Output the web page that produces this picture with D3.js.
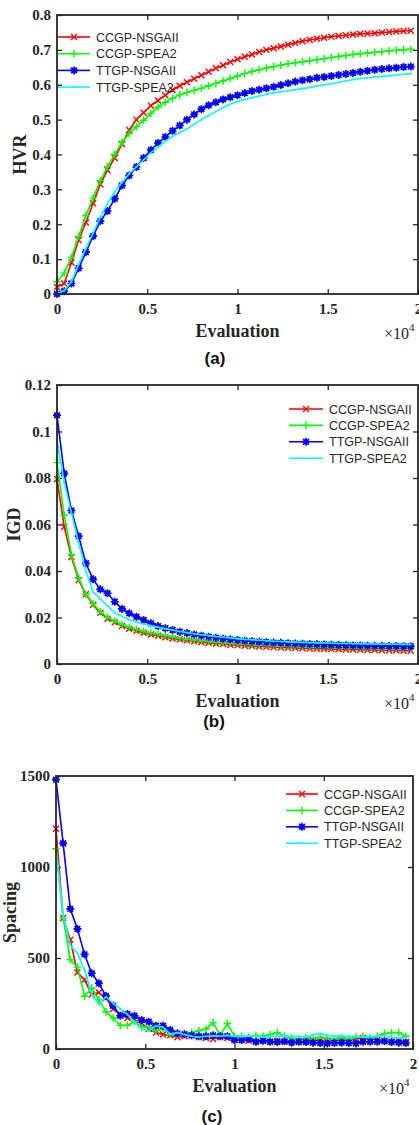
<!DOCTYPE html>
<html>
<head>
<meta charset="utf-8">
<script src="https://cdn.jsdelivr.net/npm/d3@7.9.0/dist/d3.min.js"></script>
<style>
    body { margin: 0; background: #fff; }
    svg { display: block; }
    .tick text { font-family: "Liberation Serif", "Times New Roman", serif; font-weight: bold; font-size: 15px; fill: #262626; }
    .tick line { stroke: #262626; stroke-width: 1.3; }
</style>
</head>
<body>
<svg id="chart" width="419" height="1125"></svg>
<script>
// Evaluation grid (x values of the sampled points)
const evaluations = [0, 400, 800, 1200, 1600, 2000, 2400, 2800, 3200, 3600,
    4000, 4400, 4800, 5200, 5600, 6000, 6400, 6800, 7200, 7600,
    8000, 8400, 8800, 9200, 9600, 10000, 10400, 10800, 11200, 11600,
    12000, 12400, 12800, 13200, 13600, 14000, 14400, 14800, 15200, 15600,
    16000, 16400, 16800, 17200, 17600, 18000, 18400, 18800, 19200, 19600];

const seriesNames = ['CCGP-NSGAII', 'CCGP-SPEA2', 'TTGP-NSGAII', 'TTGP-SPEA2'];

const xTicks = [0, 5000, 10000, 15000, 20000];
const xTickLabels = ['0', '0.5', '1', '1.5', '2'];

// (a) HVR
const hvrTicks = [0, 0.1, 0.2, 0.3, 0.4, 0.5, 0.6, 0.7, 0.8];
const hvrTickLabels = ['0', '0.1', '0.2', '0.3', '0.4', '0.5', '0.6', '0.7', '0.8'];
const hvrCCGPNSGAII = [0.02, 0.03, 0.09, 0.155, 0.205, 0.26, 0.315, 0.355, 0.39, 0.43,
    0.47, 0.50, 0.52, 0.54, 0.555, 0.57, 0.585, 0.597, 0.607, 0.617,
    0.627, 0.637, 0.647, 0.656, 0.665, 0.673, 0.68, 0.687, 0.694, 0.70,
    0.705, 0.71, 0.715, 0.72, 0.725, 0.729, 0.732, 0.735, 0.738, 0.74,
    0.742, 0.744, 0.746, 0.747, 0.748, 0.75, 0.751, 0.753, 0.754, 0.755];
const hvrCCGPSPEA2 = [0.035, 0.06, 0.105, 0.165, 0.225, 0.275, 0.325, 0.365, 0.40, 0.435,
    0.46, 0.48, 0.498, 0.518, 0.536, 0.55, 0.561, 0.571, 0.578, 0.584,
    0.59, 0.597, 0.604, 0.611, 0.618, 0.625, 0.632, 0.638, 0.643, 0.648,
    0.652, 0.656, 0.66, 0.663, 0.666, 0.669, 0.672, 0.675, 0.678, 0.681,
    0.684, 0.687, 0.689, 0.691, 0.693, 0.695, 0.697, 0.699, 0.70, 0.702];
const hvrTTGPNSGAII = [0.0, 0.008, 0.03, 0.074, 0.12, 0.166, 0.209, 0.238, 0.273, 0.311,
    0.34, 0.364, 0.39, 0.413, 0.433, 0.45, 0.468, 0.483, 0.50, 0.515,
    0.53, 0.541, 0.55, 0.558, 0.564, 0.57, 0.576, 0.582, 0.586, 0.59,
    0.594, 0.599, 0.604, 0.609, 0.613, 0.616, 0.62, 0.622, 0.625, 0.628,
    0.631, 0.634, 0.637, 0.64, 0.643, 0.645, 0.647, 0.649, 0.651, 0.652];
const hvrTTGPSPEA2 = [0.0, 0.01, 0.035, 0.085, 0.13, 0.175, 0.22, 0.26, 0.293, 0.32,
    0.345, 0.365, 0.385, 0.405, 0.422, 0.438, 0.452, 0.463, 0.473, 0.487,
    0.50, 0.512, 0.523, 0.535, 0.545, 0.552, 0.558, 0.563, 0.568, 0.573,
    0.577, 0.58, 0.583, 0.586, 0.589, 0.592, 0.596, 0.60, 0.603, 0.607,
    0.611, 0.615, 0.618, 0.62, 0.622, 0.624, 0.626, 0.628, 0.63, 0.632];

// (b) IGD
const igdTicks = [0, 0.02, 0.04, 0.06, 0.08, 0.1, 0.12];
const igdTickLabels = ['0', '0.02', '0.04', '0.06', '0.08', '0.1', '0.12'];
const igdCCGPNSGAII = [0.0796, 0.059, 0.046, 0.036, 0.030, 0.0255, 0.022, 0.0195, 0.018, 0.0163,
    0.0152, 0.0143, 0.0134, 0.0127, 0.0121, 0.0115, 0.011, 0.0106, 0.0102, 0.0098,
    0.0094, 0.0091, 0.0088, 0.0086, 0.0083, 0.0081, 0.0079, 0.0077, 0.0075, 0.0074,
    0.0072, 0.0071, 0.007, 0.0069, 0.0068, 0.0067, 0.0066, 0.0065, 0.0064, 0.0063,
    0.0062, 0.0062, 0.0061, 0.006, 0.006, 0.0059, 0.0058, 0.0058, 0.0057, 0.0057];
const igdCCGPSPEA2 = [0.0866, 0.064, 0.047, 0.037, 0.030, 0.026, 0.0225, 0.020, 0.0185, 0.017,
    0.0158, 0.0148, 0.014, 0.0133, 0.0127, 0.0121, 0.0116, 0.0111, 0.0107, 0.0103,
    0.010, 0.0097, 0.0094, 0.0092, 0.009, 0.0088, 0.0086, 0.0084, 0.0082, 0.0081,
    0.008, 0.0078, 0.0077, 0.0076, 0.0075, 0.0074, 0.0073, 0.0072, 0.0071, 0.0071,
    0.007, 0.0069, 0.0069, 0.0068, 0.0068, 0.0067, 0.0067, 0.0066, 0.0066, 0.0066];
const igdTTGPNSGAII = [0.107, 0.082, 0.066, 0.055, 0.0433, 0.0364, 0.0321, 0.0304, 0.0268, 0.0237,
    0.0218, 0.0203, 0.0189, 0.0175, 0.0163, 0.0154, 0.0146, 0.0139, 0.0133, 0.0127,
    0.0122, 0.0117, 0.0113, 0.0109, 0.0106, 0.0103, 0.0100, 0.0098, 0.0096, 0.0094,
    0.0092, 0.0091, 0.0089, 0.0088, 0.0087, 0.0086, 0.0085, 0.0084, 0.0083, 0.0082,
    0.0081, 0.0080, 0.0080, 0.0079, 0.0078, 0.0078, 0.0077, 0.0077, 0.0076, 0.0076];
const igdTTGPSPEA2 = [0.096, 0.078, 0.065, 0.052, 0.040, 0.031, 0.028, 0.025, 0.022, 0.0205,
    0.019, 0.018, 0.0172, 0.0165, 0.0158, 0.0152, 0.0146, 0.014, 0.0135, 0.013,
    0.0126, 0.0122, 0.0118, 0.0115, 0.0112, 0.0109, 0.0106, 0.0104, 0.0102, 0.010,
    0.0098, 0.0097, 0.0095, 0.0094, 0.0093, 0.0092, 0.0091, 0.009, 0.0089, 0.0088,
    0.0088, 0.0087, 0.0087, 0.0086, 0.0086, 0.0085, 0.0085, 0.0085, 0.0084, 0.0084];

// (c) Spacing
const spTicks = [0, 500, 1000, 1500];
const spTickLabels = ['0', '500', '1000', '1500'];
const spCCGPNSGAII = [1210, 720, 600, 420, 380, 300, 310, 280, 220, 190,
    170, 160, 140, 110, 90, 80, 75, 65, 70, 75,
    65, 60, 55, 65, 60, 55, 50, 45, 40, 45,
    40, 45, 40, 45, 40, 45, 50, 45, 40, 45,
    50, 45, 55, 60, 55, 50, 45, 40, 45, 40];
const spCCGPSPEA2 = [1100, 720, 490, 450, 290, 335, 270, 205, 170, 130,
    130, 150, 120, 120, 100, 110, 80, 75, 80, 90,
    100, 110, 145, 75, 140, 70, 70, 65, 75, 70,
    80, 90, 70, 60, 55, 60, 55, 65, 60, 55,
    60, 55, 65, 70, 60, 70, 85, 90, 90, 70];
const spTTGPNSGAII = [1480, 1130, 770, 660, 520, 416, 361, 291, 238, 183,
    192, 183, 159, 150, 128, 128, 104, 86, 81, 75,
    70, 70, 75, 70, 70, 49, 49, 55, 40, 45,
    40, 38, 42, 35, 40, 38, 35, 33, 30, 33,
    35, 33, 30, 40, 40, 40, 42, 38, 35, 33];
const spTTGPSPEA2 = [1100, 740, 570, 527, 434, 300, 245, 287, 250, 220,
    190, 150, 110, 100, 128, 120, 82, 90, 80, 70,
    65, 70, 72, 70, 75, 70, 68, 72, 70, 65,
    68, 70, 72, 68, 70, 65, 80, 85, 75, 70,
    72, 68, 70, 65, 68, 70, 72, 65, 60, 62];

const colors = ['#ff0000', '#00ff00', '#0000ff', '#00ffff'];
const markers = ['x', 'plus', 'star', 'dot'];

const serif = '"Liberation Serif", "Times New Roman", serif';
const sans = '"Liberation Sans", Arial, sans-serif';
const ink = '#262626';

const svg = d3.select('#chart');

function markerPath(type) {
    if (type === 'x') return 'M-3,-3L3,3M-3,3L3,-3';
    if (type === 'plus') return 'M-3.8,0H3.8M0,-3.8V3.8';
    if (type === 'star') return 'M-4,0H4M0,-4V4M-2.9,-2.9L2.9,2.9M-2.9,2.9L2.9,-2.9';
    return null;
}

function drawMarker(sel, type, color) {
    if (type === 'dot') {
        sel.append('circle').attr('r', 1).attr('fill', color);
        return;
    }
    if (type === 'star') {
        sel.append('circle').attr('r', 2.8).attr('fill', color);
    }
    sel.append('path')
        .attr('d', markerPath(type))
        .attr('stroke', color)
        .attr('stroke-width', type === 'star' ? 1.6 : 1.4)
        .attr('fill', 'none');
}

function drawPanel(p) {
    const g = svg.append('g');
    const x = d3.scaleLinear().domain([0, 20000]).range([p.left, p.right]);
    const y = d3.scaleLinear().domain([0, p.ymax]).range([p.bottom, p.top]);

    // axes, ticks pointing inward on all four sides
    g.append('g').attr('transform', `translate(0,${p.bottom})`)
        .call(d3.axisBottom(x).tickValues(xTicks).tickFormat((d, i) => xTickLabels[i]).tickSize(-5).tickPadding(9));
    g.append('g').attr('transform', `translate(0,${p.top})`)
        .call(d3.axisTop(x).tickValues(xTicks.slice(1, 4)).tickFormat('').tickSize(-5));
    g.append('g').attr('transform', `translate(${p.left},0)`)
        .call(d3.axisLeft(y).tickValues(p.yTicks).tickFormat((d, i) => p.yLabels[i]).tickSize(-5).tickPadding(6));
    g.append('g').attr('transform', `translate(${p.right},0)`)
        .call(d3.axisRight(y).tickValues(p.yTicks.slice(1, -1)).tickFormat('').tickSize(-5));
    g.selectAll('.domain').remove();

    // series
    const line = d3.line().x((d, i) => x(evaluations[i])).y(d => y(d));
    p.series.forEach((values, k) => {
        g.append('path')
            .datum(values)
            .attr('d', line)
            .attr('fill', 'none')
            .attr('stroke', colors[k])
            .attr('stroke-width', 1.6);
        g.append('g').selectAll('g')
            .data(values)
            .join('g')
            .attr('transform', (d, i) => `translate(${x(evaluations[i])},${y(d)})`)
            .each(function () { drawMarker(d3.select(this), markers[k], colors[k]); });
    });

    // frame
    g.append('rect')
        .attr('x', p.left).attr('y', p.top)
        .attr('width', p.right - p.left).attr('height', p.bottom - p.top)
        .attr('fill', 'none').attr('stroke', ink).attr('stroke-width', 1.8);

    // legend, no box
    seriesNames.forEach((name, k) => {
        const ly = p.legend.y + k * p.legend.dy;
        g.append('line')
            .attr('x1', p.legend.x1).attr('x2', p.legend.x2)
            .attr('y1', ly).attr('y2', ly)
            .attr('stroke', colors[k]).attr('stroke-width', 1.6);
        const m = g.append('g').attr('transform', `translate(${(p.legend.x1 + p.legend.x2) / 2},${ly})`);
        drawMarker(m, markers[k], colors[k]);
        g.append('text')
            .attr('x', p.legend.x2 + 6).attr('y', ly + 4.5)
            .attr('font-family', sans).attr('font-size', 12.5).attr('fill', ink)
            .text(name);
    });

    // axis labels
    g.append('text')
        .attr('x', (p.left + p.right) / 2).attr('y', p.bottom + 43)
        .attr('text-anchor', 'middle')
        .attr('font-family', serif).attr('font-weight', 'bold').attr('font-size', 18).attr('fill', ink)
        .text('Evaluation');
    const exp = g.append('text')
        .attr('x', p.right - 34).attr('y', p.bottom + 45)
        .attr('font-family', serif).attr('font-size', 16).attr('fill', ink);
    exp.append('tspan').text('\u00d710');
    exp.append('tspan').attr('font-size', 11).attr('dy', -8).text('4');

    g.append('text')
        .attr('transform', `translate(${p.ylabelX},${(p.top + p.bottom) / 2}) rotate(-90)`)
        .attr('text-anchor', 'middle')
        .attr('font-family', serif).attr('font-weight', 'bold').attr('font-size', 18).attr('fill', ink)
        .text(p.ylabel);

    g.append('text')
        .attr('x', p.captionX).attr('y', p.captionY)
        .attr('text-anchor', 'middle')
        .attr('font-family', sans).attr('font-weight', 'bold').attr('font-size', 17).attr('fill', '#111')
        .text(p.caption);
}

drawPanel({
    left: 57, right: 418, top: 15, bottom: 294, ymax: 0.8,
    yTicks: hvrTicks, yLabels: hvrTickLabels, ylabel: 'HVR', ylabelX: 26,
    series: [hvrCCGPNSGAII, hvrCCGPSPEA2, hvrTTGPNSGAII, hvrTTGPSPEA2],
    legend: { x1: 58, x2: 90, y: 37, dy: 16.7 },
    caption: '(a)', captionX: 215, captionY: 364
});

drawPanel({
    left: 57, right: 418, top: 385, bottom: 664, ymax: 0.12,
    yTicks: igdTicks, yLabels: igdTickLabels, ylabel: 'IGD', ylabelX: 20,
    series: [igdCCGPNSGAII, igdCCGPSPEA2, igdTTGPNSGAII, igdTTGPSPEA2],
    legend: { x1: 289, x2: 323, y: 409, dy: 16.4 },
    caption: '(b)', captionX: 214, captionY: 727
});

drawPanel({
    left: 56, right: 413, top: 776, bottom: 1049, ymax: 1500,
    yTicks: spTicks, yLabels: spTickLabels, ylabel: 'Spacing', ylabelX: 16,
    series: [spCCGPNSGAII, spCCGPSPEA2, spTTGPNSGAII, spTTGPSPEA2],
    legend: { x1: 286, x2: 318, y: 794, dy: 16.4 },
    caption: '(c)', captionX: 212, captionY: 1122
});
</script>
</body>
</html>
